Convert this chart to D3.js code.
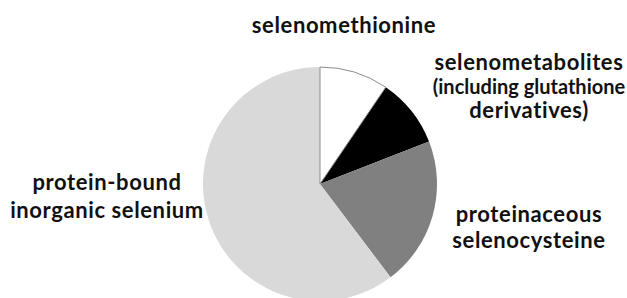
<!DOCTYPE html>
<html>
<head>
<meta charset="utf-8">
<script src="https://cdn.jsdelivr.net/npm/d3@7"></script>
<style>
  html, body { margin: 0; padding: 0; background: #fff; }
  svg text { font-family: Lato, "Open Sans", sans-serif; font-weight: 700; fill: #111; letter-spacing: 0.6px; }
</style>
</head>
<body>
<div id="chart"></div>
<script>
// slice shares (percent), clockwise from 12 o'clock
const categories = ['selenomethionine', 'selenometabolites', 'proteinaceous selenocysteine', 'protein-bound inorganic selenium'];
const values = [9.5, 9.6, 20.6, 60.3];
const sliceColors = ['#ffffff', '#000000', '#808080', '#d9d9d9'];

// label lines per category
const labelLines = [
  ['selenomethionine'],
  ['selenometabolites', '(including glutathione', 'derivatives)'],
  ['proteinaceous', 'selenocysteine'],
  ['protein-bound', 'inorganic selenium']
];

const width = 627, height = 298;
const cx = 320, cy = 184, radius = 117;

const svg = d3.select('#chart').append('svg')
  .attr('width', width).attr('height', height)
  .attr('viewBox', '0 0 ' + width + ' ' + height);

const pie = d3.pie().sort(null).value(d => d);
const arc = d3.arc().innerRadius(0).outerRadius(radius);

const g = svg.append('g').attr('transform', 'translate(' + cx + ',' + cy + ')');

const arcs = pie(values);
g.selectAll('path.slice').data(arcs).enter()
  .append('path').attr('class', 'slice')
  .attr('d', arc)
  .attr('fill', (d, i) => sliceColors[i])
  .attr('stroke', 'none');

// thin grey outline only around the white slice
g.append('path')
  .attr('d', arc(arcs[0]))
  .attr('fill', 'none')
  .attr('stroke', '#8c8c8c')
  .attr('stroke-width', 1);

// label anchor points (centre x, first baseline y)
const labelPos = [
  [344, 33],
  [529, 70],
  [529, 222],
  [107, 190]
];
const lineH = [0, 24, 26, 28];

const labels = svg.selectAll('text.label').data(labelLines).enter()
  .append('text').attr('class', 'label')
  .attr('text-anchor', 'middle')
  .style('font-size', '22px');

labels.each(function(lines, i) {
  const t = d3.select(this);
  lines.forEach((line, j) => {
    const ts = t.append('tspan')
      .attr('x', labelPos[i][0])
      .attr('y', labelPos[i][1] + j * lineH[i])
      .text(line);
    // the long middle line sits tight against the right edge
    if (line.length > 20) {
      ts.style('letter-spacing', '0px').style('font-size', '20px');
    }
  });
});
</script>
</body>
</html>
